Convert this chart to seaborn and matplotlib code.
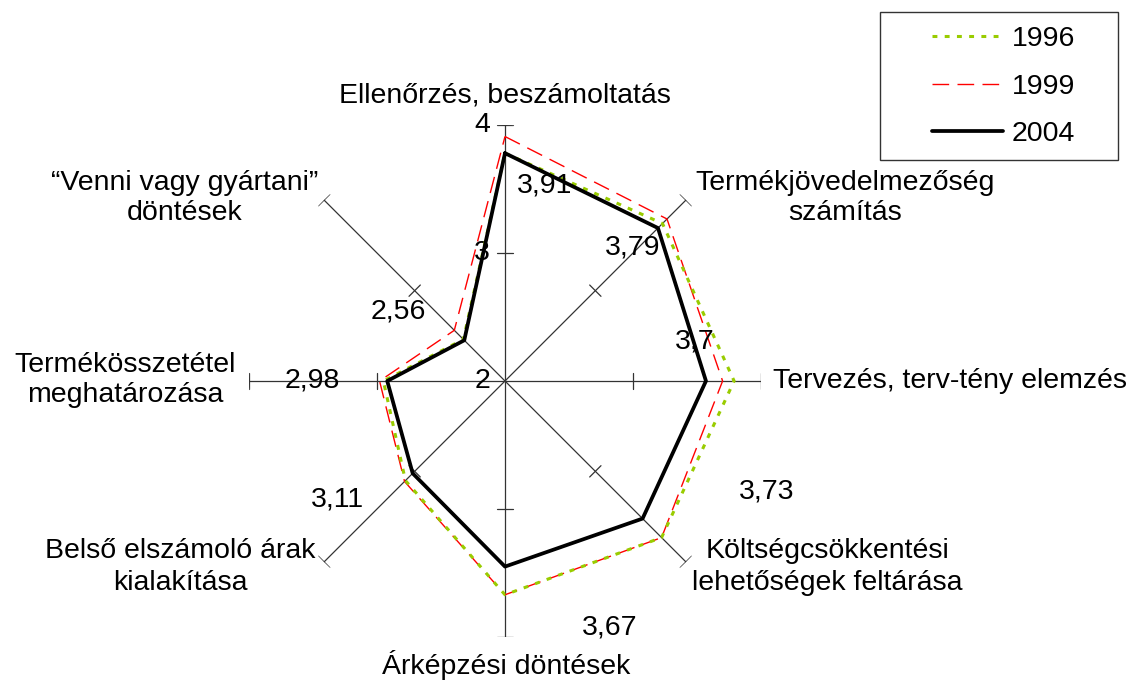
import numpy as np
import pandas as pd
import matplotlib
matplotlib.use('Agg')
import matplotlib.pyplot as plt
import matplotlib.patches as mpatches
import seaborn as sns

# categories, clockwise from the top
categories = ['Ellenőrzés, beszámoltatás',
              'Termékjövedelmezőség\nszámítás',
              'Tervezés, terv-tény elemzés',
              'Költségcsökkentési\nlehetőségek feltárása',
              'Árképzési döntések',
              'Belső elszámoló árak\nkialakítása',
              'Termékösszetétel\nmeghatározása',
              '“Venni vagy gyártani”\ndöntések']

years = ['1996', '1999', '2004']
v1996 = [3.78, 3.74, 3.79, 3.73, 3.67, 3.10, 2.95, 2.46]
v1999 = [3.91, 3.79, 3.70, 3.73, 3.67, 3.11, 2.98, 2.56]
v2004 = [3.78, 3.69, 3.57, 3.52, 3.45, 3.02, 2.92, 2.45]

# data labels as printed on the chart
value_labels = ['3,91', '3,79', '3,7', '3,73', '3,67', '3,11', '2,98', '2,56']
r_ticks = [2, 3, 4]

sns.set_style('white')
plt.rcParams['font.family'] = ['Liberation Sans', 'DejaVu Sans']
plt.rcParams['text.color'] = 'black'
FS = 20.5

W, H = 1133, 684
def fx(x):
    return x / W
def fy(y):
    return 1 - y / H

fig = plt.figure(figsize=(W / 100, H / 100), dpi=100)
ax = fig.add_axes([fx(505 - 256), fy(381 + 256), 512 / W, 512 / H], projection='polar')
ax.set_theta_offset(np.pi / 2)
ax.set_theta_direction(-1)
ax.set_ylim(2, 4)
ax.grid(False)
ax.spines['polar'].set_visible(False)
ax.set_xticks([])
ax.set_yticks([])

n = len(categories)
theta = np.arange(n) * 2 * np.pi / n

# spokes with small cross ticks at 3 and 4
for t in theta:
    ax.plot([t, t], [2, 4], color='#333333', lw=0.9, zorder=1)
    for r in [3, 4]:
        d = 8 / (128 * (r - 2))
        ax.plot([t - d, t + d], [r, r], color='#333333', lw=0.9, zorder=1)

styles = {
    '1999': dict(color='#ff0000', lw=1.0, linestyle=(0, (12, 6))),
    '1996': dict(color='#99cc00', lw=2.2, linestyle=(0, (1.6, 2.4))),
    '2004': dict(color='black', lw=2.7, linestyle='-'),
}
series = {'1996': v1996, '1999': v1999, '2004': v2004}
order = ['1999', '1996', '2004']
handles = {}
for i, y in enumerate(order):
    vals = series[y]
    df = pd.DataFrame({'theta': np.append(theta, theta[0]),
                       'value': np.append(vals, vals[0])})
    sns.lineplot(data=df, x='theta', y='value', sort=False, estimator=None,
                 ax=ax, zorder=3 + i, **styles[y])
    handles[y] = ax.get_lines()[-1]
ax.set_xlabel('')
ax.set_ylabel('')
ax.set_ylim(2, 4)
ax.set_xlim(0, 2 * np.pi)

# radial scale labels on the top spoke
for r in r_ticks:
    ax.annotate(str(r), xy=(0, r), xytext=(-15, 0), textcoords='offset pixels',
                ha='right', va='center', fontsize=FS, color='black')

# category labels
cat_pos = [(505, 95, 'center'), (845, 198, 'center'), (773, 381, 'left'),
           (827, 567, 'center'), (506, 665, 'center'), (180, 567, 'center'),
           (125, 380, 'center'), (185, 198, 'center')]
for lab, (x, y, ha) in zip(categories, cat_pos):
    fig.text(fx(x), fy(y), lab, ha=ha, va='center', fontsize=FS,
             linespacing=1.25, multialignment='center')

# data labels
val_pos = [(545, 186), (633, 247), (695, 342), (767, 492),
           (610, 628), (337, 500), (312, 381), (398, 311)]
for lab, (x, y) in zip(value_labels, val_pos):
    fig.text(fx(x), fy(y), lab, ha='center', va='center', fontsize=FS)

# legend with a plain square box
fig.add_artist(mpatches.Rectangle((fx(880), fy(160)), 238 / W, 148 / H,
                                  transform=fig.transFigure, fill=False,
                                  ec='#333333', lw=1.0))
fig.legend([handles[y] for y in years], years, loc='upper left',
           bbox_to_anchor=(fx(932), fy(26)), frameon=False, fontsize=FS,
           borderpad=0, borderaxespad=0, handlelength=2.5, handletextpad=0.3,
           labelspacing=0.76)

fig.savefig('out.png', dpi=100)
